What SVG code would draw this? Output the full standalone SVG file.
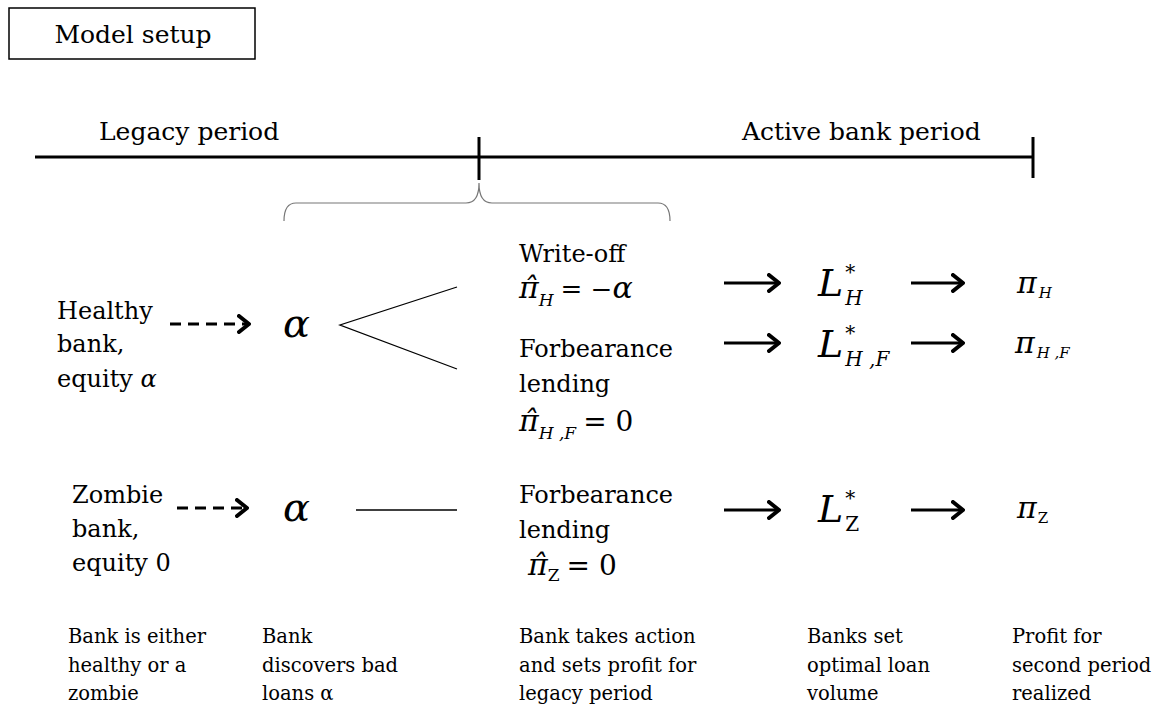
<svg xmlns="http://www.w3.org/2000/svg" width="1153" height="704" viewBox="0 0 1153 704" font-family="DejaVu Serif, serif">
<style>
.t{font-size:24px}
.h{font-size:25px}
.b{font-size:19.5px}
.m{font-style:italic}
.n{font-style:normal}
.tl{stroke:#000;stroke-width:3;fill:none}
.thin{stroke:#000;stroke-width:1.3;fill:none}
.arr{stroke:#000;stroke-width:3;fill:none;marker-end:url(#chev)}
.dash{stroke:#000;stroke-width:3;fill:none;stroke-dasharray:11 7;marker-end:url(#chev)}
</style>
<defs>
<marker id="chev" markerUnits="userSpaceOnUse" viewBox="0 0 14 20" refX="12" refY="10" markerWidth="14" markerHeight="20" orient="auto">
<path d="M2,2 L12,10 L2,18" fill="none" stroke="#000" stroke-width="4" stroke-linecap="round" stroke-linejoin="round"/>
</marker>
</defs>
<rect width="1153" height="704" fill="#fff"/>

<g id="title">
<rect x="9" y="8" width="246" height="51" fill="none" stroke="#000" stroke-width="1.5"/>
<text class="h" x="133" y="43" text-anchor="middle">Model setup</text>
</g>

<g id="timeline">
<text class="h" x="99" y="140">Legacy period</text>
<text class="h" x="742" y="140">Active bank period</text>
<line class="tl" x1="35" y1="157" x2="1033" y2="157"/>
<line class="tl" x1="479" y1="137" x2="479" y2="180"/>
<line class="tl" x1="1033" y1="137" x2="1033" y2="178"/>
<path d="M284,221 Q284,203 296,203 L466,203 Q479,203 479,183 Q479,203 492,203 L658,203 Q670,203 670,221" fill="none" stroke="#777" stroke-width="1.2"/>
</g>

<g id="healthy">
<text class="t" x="57" y="319">Healthy</text>
<text class="t" x="57" y="352">bank,</text>
<text class="t" x="57" y="387">equity <tspan class="m">α</tspan></text>
</g>
<g id="zombie">
<text class="t" x="72" y="503">Zombie</text>
<text class="t" x="72" y="537">bank,</text>
<text class="t" x="72" y="571">equity 0</text>
</g>

<g id="alpha-h"><text class="m" x="283" y="337" font-size="40">α</text></g>
<g id="alpha-z"><text class="m" x="283" y="521" font-size="40">α</text></g>

<g id="writeoff">
<text class="t" x="519" y="262">Write-off</text>
<text class="m" x="519" y="298" font-size="30">π̂<tspan font-size="17" dy="8">H</tspan><tspan class="n" font-size="26" dy="-8" dx="7">= −</tspan>α</text>
</g>
<g id="forb-h">
<text class="t" x="519" y="357">Forbearance</text>
<text class="t" x="519" y="392">lending</text>
<text class="m" x="519" y="431" font-size="30">π̂<tspan font-size="17" dy="8">H ,F</tspan><tspan class="n" font-size="28" dy="-8" dx="7">= 0</tspan></text>
</g>
<g id="forb-z">
<text class="t" x="519" y="503">Forbearance</text>
<text class="t" x="519" y="538">lending</text>
<text class="m" x="528" y="575" font-size="30">π̂<tspan class="n" font-size="17" dy="6">Z</tspan><tspan class="n" font-size="28" dy="-6" dx="7">= 0</tspan></text>
</g>

<g id="L-H"><text class="m" x="818" y="296" font-size="38">L<tspan font-size="20" dx="2" dy="-17">*</tspan><tspan font-size="20" dx="-10" dy="26">H</tspan></text></g>
<g id="L-HF"><text class="m" x="818" y="357" font-size="38">L<tspan font-size="20" dx="2" dy="-17">*</tspan><tspan font-size="20" dx="-10" dy="26">H ,F</tspan></text></g>
<g id="L-Z"><text class="m" x="818" y="522" font-size="38">L<tspan font-size="20" dx="2" dy="-17">*</tspan><tspan class="n" font-size="20" dx="-10" dy="26">Z</tspan></text></g>

<g id="pi-H"><text class="m" x="1017" y="293" font-size="30">π<tspan font-size="15" dx="2" dy="5">H</tspan></text></g>
<g id="pi-HF"><text class="m" x="1015" y="353" font-size="30">π<tspan font-size="15" dx="2" dy="5">H ,F</tspan></text></g>
<g id="pi-Z"><text class="m" x="1017" y="518" font-size="30">π<tspan class="n" font-size="15" dx="1" dy="5">Z</tspan></text></g>

<g id="connectors">
<line class="dash" x1="170" y1="324" x2="249" y2="324"/>
<line class="dash" x1="177" y1="508" x2="247" y2="508"/>
<polyline class="thin" points="457,287 340,325 457,369"/>
<line class="thin" x1="356" y1="510" x2="457" y2="510"/>
<line class="arr" x1="724" y1="283" x2="779" y2="283"/>
<line class="arr" x1="724" y1="343" x2="779" y2="343"/>
<line class="arr" x1="724" y1="510" x2="779" y2="510"/>
<line class="arr" x1="911" y1="283" x2="963" y2="283"/>
<line class="arr" x1="911" y1="343" x2="963" y2="343"/>
<line class="arr" x1="911" y1="510" x2="963" y2="510"/>
</g>

<g id="labels">
<text class="b" x="68" y="643">Bank is either</text>
<text class="b" x="68" y="672">healthy or a</text>
<text class="b" x="68" y="700">zombie</text>
<text class="b" x="262" y="643">Bank</text>
<text class="b" x="262" y="672">discovers bad</text>
<text class="b" x="262" y="700">loans α</text>
<text class="b" x="519" y="643">Bank takes action</text>
<text class="b" x="519" y="672">and sets profit for</text>
<text class="b" x="519" y="700">legacy period</text>
<text class="b" x="807" y="643">Banks set</text>
<text class="b" x="807" y="672">optimal loan</text>
<text class="b" x="807" y="700">volume</text>
<text class="b" x="1012" y="643">Profit for</text>
<text class="b" x="1012" y="672">second period</text>
<text class="b" x="1012" y="700">realized</text>
</g>
</svg>
